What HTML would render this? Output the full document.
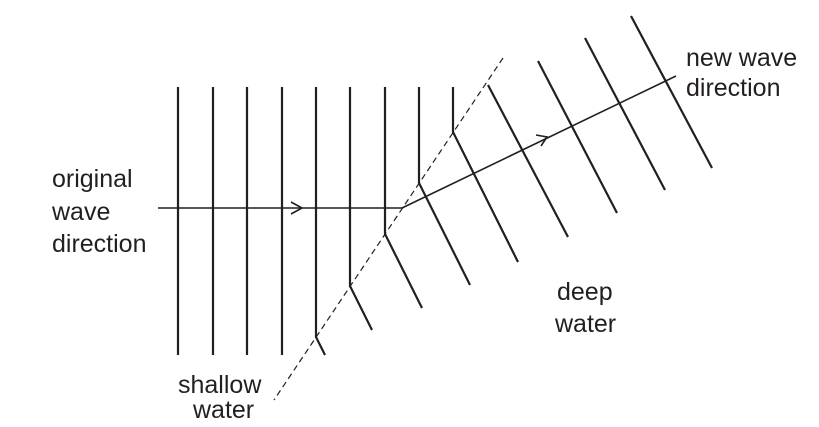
<!DOCTYPE html>
<html><head><style>html,body{margin:0;padding:0;background:#fff}svg{display:block}text{font-family:"Liberation Sans",Arial,sans-serif;font-size:25px;fill:#231f20}</style></head>
<body>
<svg width="819" height="427" viewBox="0 0 819 427" xmlns="http://www.w3.org/2000/svg">
<g stroke="#231f20" stroke-width="2.2" fill="none" stroke-linecap="butt">
<line x1="178" y1="87" x2="178" y2="355"/>
<line x1="213" y1="87" x2="213" y2="355"/>
<line x1="247" y1="87" x2="247" y2="355"/>
<line x1="282" y1="87" x2="282" y2="355"/>
<polyline points="316,87 316,337 325,355"/>
<polyline points="350,87 350,286 372,330"/>
<polyline points="385,87 385,234 422,308"/>
<polyline points="419,87 419,183 470,285"/>
<polyline points="453,87 453,132 518,262"/>
<line x1="488" y1="85" x2="568" y2="237"/>
<line x1="538" y1="61" x2="617" y2="213"/>
<line x1="585" y1="38" x2="665" y2="190"/>
<line x1="631" y1="16" x2="712" y2="168"/>
</g>
<g stroke="#231f20" stroke-width="1.6" fill="none">
<line x1="158" y1="208" x2="402" y2="208"/>
<polyline points="291,202 302,208 291,214"/>
<line x1="402" y1="208" x2="676" y2="76"/>
<polyline points="536,135 547,137 541,146"/>
</g>
<line x1="503" y1="58" x2="274" y2="400" stroke="#231f20" stroke-width="1.2" stroke-dasharray="6,4"/>
<text x="52" y="187">original</text>
<text x="52" y="220">wave</text>
<text x="52" y="252">direction</text>
<text x="686" y="66">new wave</text>
<text x="686" y="96">direction</text>
<text x="557" y="300">deep</text>
<text x="555" y="332">water</text>
<text x="178" y="393">shallow</text>
<text x="193" y="418">water</text>
</svg>
</body></html>
